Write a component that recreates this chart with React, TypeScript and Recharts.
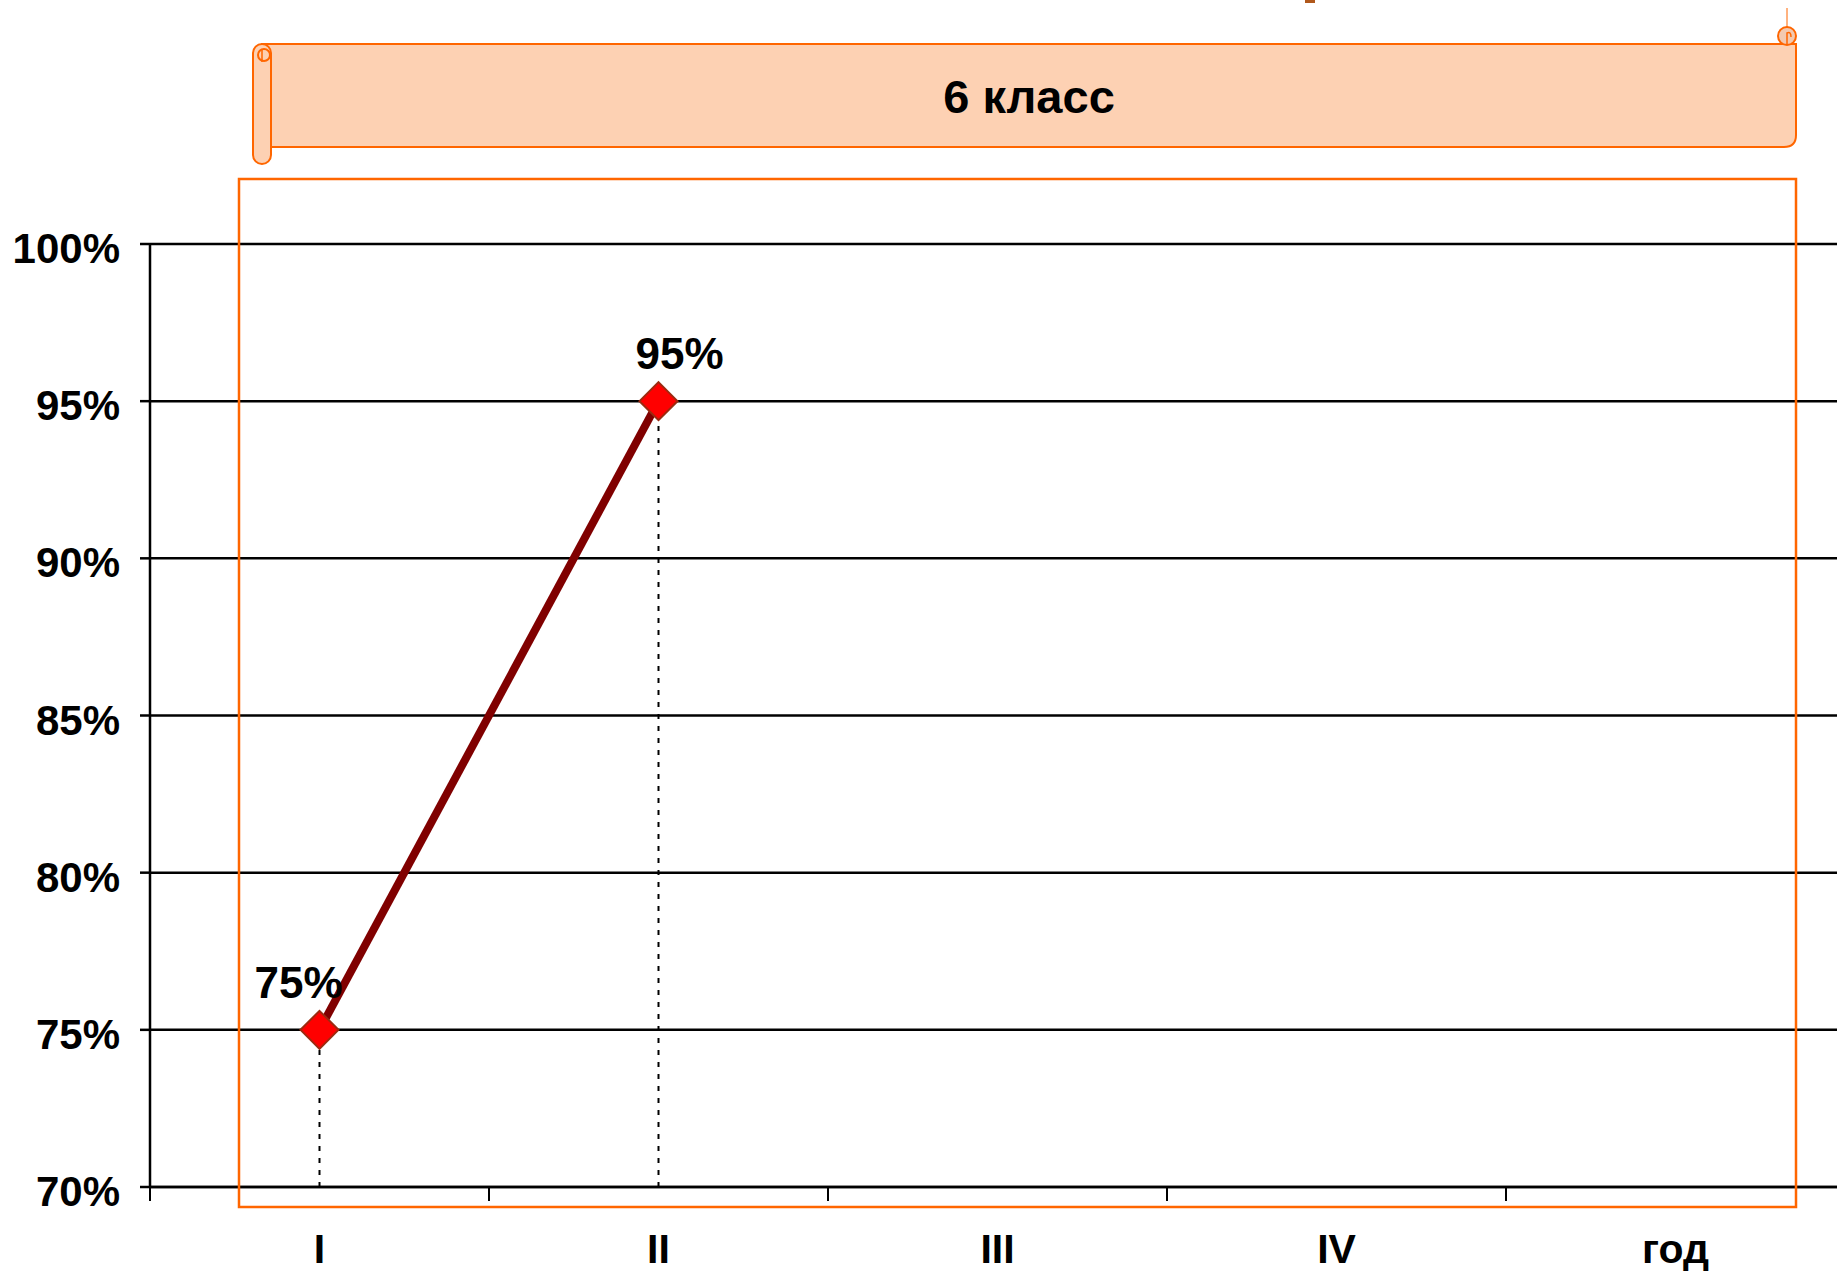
import React from 'react'
import { LineChart, Line, XAxis, YAxis, CartesianGrid, ReferenceLine, LabelList } from 'recharts'

const periods = ['I', 'II', 'III', 'IV', 'год']
const shares: (number | null)[] = [0.75, 0.95, null, null, null]
const yTicks = [0.7, 0.75, 0.8, 0.85, 0.9, 0.95, 1]
const title = '6 класс'

const data = periods.map((period, i) => ({ period, value: shares[i] }))

const FONT = "'Liberation Sans', Arial, sans-serif"
const ORANGE = '#ff6600'
const PEACH = '#fdd1b3'
const LABEL_DX = [-21, 21]

const pct = (v: number) => `${Math.round(v * 100)}%`

function YTick(props: any) {
  const { x, y, payload } = props
  return (
    <g>
      <line x1={x - 10} x2={x} y1={y} y2={y} stroke="#000" strokeWidth={2.5} />
      <text x={x - 30} y={y + 19} textAnchor="end" fontFamily={FONT} fontWeight="bold" fontSize={42} fill="#000">
        {pct(payload.value)}
      </text>
    </g>
  )
}

function XTick(props: any) {
  const { x, y, payload, index } = props
  const half = payload.offset ?? 169.5
  return (
    <g>
      <line x1={x - half} x2={x - half} y1={y} y2={y + 14} stroke="#000" strokeWidth={2} />
      {index === periods.length - 1 && (
        <line x1={x + half} x2={x + half} y1={y} y2={y + 14} stroke="#000" strokeWidth={2} />
      )}
      <text x={x} y={y + 76} textAnchor="middle" fontFamily={FONT} fontWeight="bold" fontSize={41} fill="#000">
        {payload.value}
      </text>
    </g>
  )
}

function Diamond(props: any) {
  const { cx, cy, value } = props
  if (value == null || cx == null || cy == null) return <g />
  const r = 19
  return (
    <polygon
      points={`${cx},${cy - r} ${cx + r},${cy} ${cx},${cy + r} ${cx - r},${cy}`}
      fill="#ff0000"
      stroke="#9c2a10"
      strokeWidth={2}
    />
  )
}

function PointLabel(props: any) {
  const { x, y, value, index } = props
  if (value == null) return null
  return (
    <text
      x={x + (LABEL_DX[index] ?? 0)}
      y={y - 32}
      textAnchor="middle"
      fontFamily={FONT}
      fontWeight="bold"
      fontSize={44}
      fill="#000"
    >
      {pct(value)}
    </text>
  )
}

function Decor() {
  return (
    <svg
      width={1837}
      height={1274}
      style={{ position: 'absolute', left: 0, top: 0, pointerEvents: 'none' }}
    >
      {/* small cut-off mark at the top edge */}
      <rect x={1305} y={0} width={10} height={3} fill="#b0581c" />
      {/* scroll banner */}
      <line x1={1787} y1={8} x2={1787} y2={28} stroke={ORANGE} strokeWidth={1} />
      <path
        d="M262,44 H1796 V135 Q1796,147 1784,147 H262 Z"
        fill={PEACH}
        stroke={ORANGE}
        strokeWidth={2}
      />
      <circle cx={1787} cy={36} r={9} fill="#f3c9b0" stroke={ORANGE} strokeWidth={2} />
      <path d="M1787,44 V33 Q1791,31 1791,37" fill="none" stroke={ORANGE} strokeWidth={1.5} />
      <rect x={253} y={44} width={18} height={120} rx={9} fill={PEACH} stroke={ORANGE} strokeWidth={2} />
      <ellipse cx={264} cy={55} rx={6} ry={6} fill={PEACH} stroke={ORANGE} strokeWidth={2} />
      <line x1={262} y1={50} x2={262} y2={62} stroke={ORANGE} strokeWidth={1.5} />
      <text x={1029} y={113} textAnchor="middle" fontFamily={FONT} fontWeight="bold" fontSize={47} fill="#000">
        {title}
      </text>
      {/* plot frame */}
      <rect x={239} y={179} width={1557} height={1028} fill="none" stroke={ORANGE} strokeWidth={2.5} />
    </svg>
  )
}

export default function App() {
  return (
    <div
      style={{
        position: 'absolute',
        left: 0,
        top: 0,
        width: 1837,
        height: 1274,
        overflow: 'hidden',
        background: '#fff',
      }}
    >
      <LineChart width={1845} height={1274} data={data} margin={{ top: 244, right: 0, bottom: 0, left: 0 }}>
        <CartesianGrid vertical={false} stroke="#000" strokeWidth={2.5} />
        <XAxis
          dataKey="period"
          scale="band"
          height={87}
          axisLine={{ stroke: '#000', strokeWidth: 2.5 }}
          tickLine={false}
          tickSize={0}
          tickMargin={0}
          tick={<XTick />}
          interval={0}
        />
        <YAxis
          domain={[0.7, 1]}
          ticks={yTicks}
          width={150}
          axisLine={{ stroke: '#000', strokeWidth: 2.5 }}
          tickLine={false}
          tickSize={0}
          tickMargin={0}
          tick={<YTick />}
          interval={0}
        />
        {data
          .filter((d) => d.value != null)
          .map((d) => (
            <ReferenceLine
              key={d.period}
              segment={[
                { x: d.period, y: 0.7 },
                { x: d.period, y: d.value as number },
              ]}
              stroke="#000"
              strokeWidth={2}
              strokeDasharray="5 7"
            />
          ))}
        <Line
          type="linear"
          dataKey="value"
          stroke="#800000"
          strokeWidth={8}
          dot={<Diamond />}
          activeDot={false}
          isAnimationActive={false}
        >
          <LabelList dataKey="value" content={<PointLabel />} />
        </Line>
      </LineChart>
      <Decor />
    </div>
  )
}
